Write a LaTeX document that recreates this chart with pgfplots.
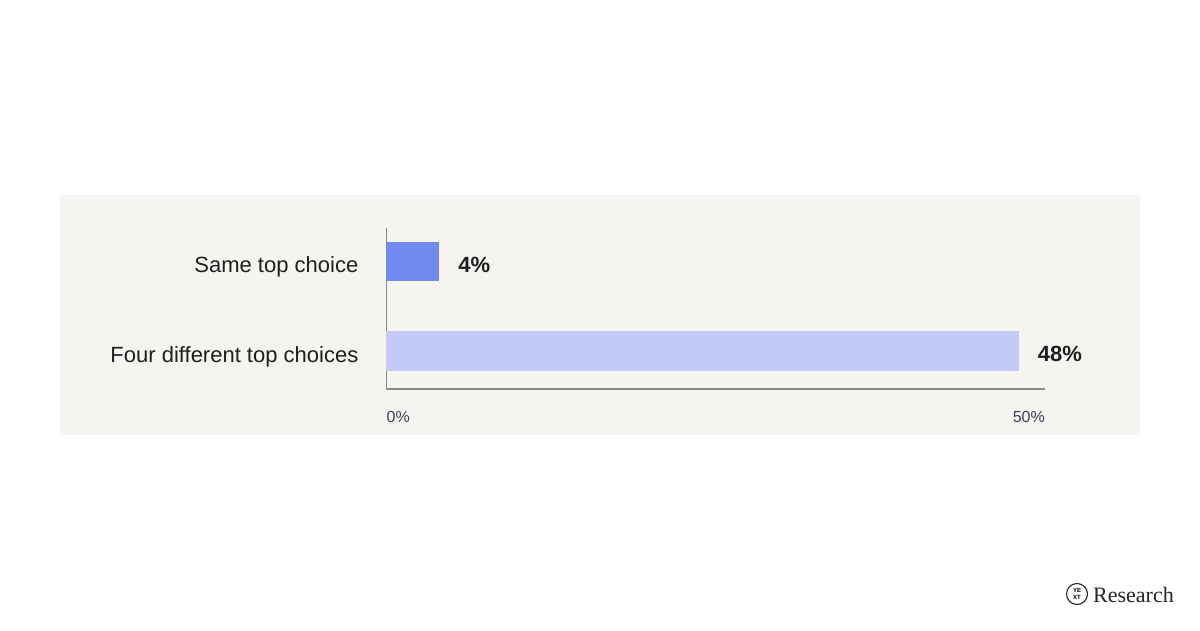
\documentclass[border=0pt]{standalone}
\usepackage{pgfplots}
\pgfplotsset{compat=1.18}
\usepackage{fontspec}
\setmainfont{Liberation Sans}
\newfontfamily\logofont{Liberation Serif}

\definecolor{panel}{HTML}{F5F4F0}
\definecolor{barA}{HTML}{6F8BEE}
\definecolor{barB}{HTML}{C3CAF5}
\definecolor{axisgray}{HTML}{8A8A8A}
\definecolor{labeltxt}{HTML}{1F1F1F}
\definecolor{ticktxt}{HTML}{3C4257}

\begin{document}
\begin{tikzpicture}
  % page and grey panel
  \fill[white] (0pt,0pt) rectangle (1200pt,630pt);
  \useasboundingbox (0pt,0pt) rectangle (1200pt,630pt);
  \fill[panel] (60pt,195pt) rectangle (1140pt,435pt);

  \begin{axis}[
      at={(386.5pt,241pt)}, anchor=south west,
      scale only axis,
      width=658.5pt, height=161pt,
      xmin=0, xmax=50,
      ymin=-0.425, ymax=1.374,
      axis x line=bottom, axis y line=left,
      axis line style={-, axisgray, line width=1.2pt},
      xtick=\empty, ytick=\empty,
      xbar, bar width=39.5pt, bar shift=0pt,
      clip=false,
      /pgf/number format/assume math mode=true,
      nodes near coords={\pgfmathprintnumber[fixed,precision=0,assume math mode=true]{\pgfplotspointmeta}\%},
      point meta=x,
      every node near coord/.append style={anchor=base west, inner sep=0pt,
        xshift=19pt, yshift=-11pt, font=\fontsize{22}{26}\selectfont\bfseries,
        text=labeltxt},
    ]
    % Same top choice
    \addplot[draw=none, fill=barA] coordinates {(4,1)};
    % Four different top choices
    \addplot[draw=none, fill=barB] coordinates {(48,0)};

    % category labels
    \node[anchor=base east, inner sep=0pt, xshift=-28pt, yshift=-11.5pt,
      font=\fontsize{22}{26}\selectfont, text=labeltxt]
      at (axis cs:0,1) {Same top choice};
    \node[anchor=base east, inner sep=0pt, xshift=-28pt, yshift=-11.5pt,
      font=\fontsize{22}{26}\selectfont, text=labeltxt]
      at (axis cs:0,0) {Four different top choices};

    % x tick labels
    \node[anchor=base west, inner sep=0pt, yshift=-33pt,
      font=\fontsize{16}{19}\selectfont, text=ticktxt]
      at (axis cs:0,-0.425) {0\%};
    \node[anchor=base east, inner sep=0pt, yshift=-33pt,
      font=\fontsize{16}{19}\selectfont, text=ticktxt]
      at (axis cs:50,-0.425) {50\%};
  \end{axis}

  % logo
  \draw[black!85, line width=1.1pt] (1077pt,36pt) circle (10.5pt);
  \node[inner sep=0pt, font=\fontsize{6}{6}\selectfont\bfseries] at (1077pt,39.5pt) {YE};
  \node[inner sep=0pt, font=\fontsize{6}{6}\selectfont\bfseries] at (1077pt,32.5pt) {XT};
  \node[anchor=base west, inner sep=0pt, font=\fontsize{22}{26}\selectfont\logofont,
    text=black!85] at (1093pt,28pt) {Research};
\end{tikzpicture}
\end{document}
